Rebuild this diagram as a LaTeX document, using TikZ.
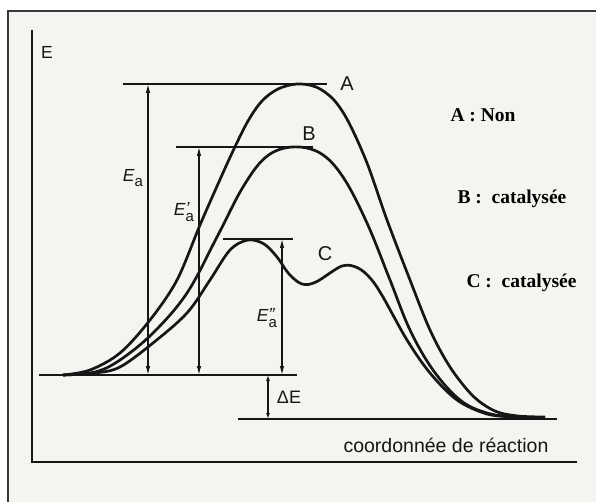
\documentclass[tikz,border=0pt]{standalone}
\usepackage{fontspec}
\setmainfont{Liberation Serif}
\setsansfont{Liberation Sans}
\usetikzlibrary{arrows.meta}
\definecolor{paper}{RGB}{246,244,240}
\definecolor{ink}{RGB}{22,22,22}
\tikzset{
  level/.style={line width=1.8pt, ink},
  pathline/.style={line width=2.7pt, ink, line join=round},
  gap/.style={line width=1.1pt, ink, {Latex[length=9pt,width=4.5pt]}-{Latex[length=9pt,width=4.5pt]}},
  smallgap/.style={line width=1.1pt, ink, {Latex[length=6pt,width=4pt]}-{Latex[length=6pt,width=4pt]}},
  curvelab/.style={font=\sffamily\fontsize{20}{20}\selectfont, ink},
  enlab/.style={font=\sffamily\fontsize{17.5}{18}\selectfont, ink, inner sep=1pt},
  legend/.style={font=\bfseries\fontsize{19.5}{21}\selectfont, anchor=west},
}
\newcommand{\Eact}[1]{{\itshape E}\rlap{\raisebox{0.05em}{\itshape #1}}\raisebox{-0.32em}{\fontsize{15}{15}\selectfont a}}

\begin{document}
\begin{tikzpicture}[x=1pt, y=-1pt]
		\useasboundingbox (0,0) rectangle (596,502);
		% page and frame
		\fill[paper] (8,11) rectangle (596,502);
		\draw[line width=1.3pt, ink!85] (8,502) -- (8,11) -- (596,11);
		% axes
		\coordinate (ytop) at (32,30);
		\coordinate (origin) at (32,462);
		\coordinate (xend) at (577,462);
		\draw[line width=2pt, ink] (ytop) -- (origin) -- (xend);
		\node[enlab] (elab) at (47,52) {E};
		\node[font=\sffamily\fontsize{19.5}{20}\selectfont, ink] (xlab) at (446,445) {coordonnée de réaction};
		% energy levels
		\coordinate (lvA1) at (123,84);  \coordinate (lvA2) at (327,84);
		\coordinate (lvB1) at (176,147); \coordinate (lvB2) at (313,147);
		\coordinate (lvC1) at (223,239); \coordinate (lvC2) at (293,239);
		\coordinate (reac1) at (39,375); \coordinate (reac2) at (297,375);
		\coordinate (prod1) at (238,419); \coordinate (prod2) at (557,419);
		\draw[level] (lvA1) -- (lvA2);
		\draw[level] (lvB1) -- (lvB2);
		\draw[level] (lvC1) -- (lvC2);
		\draw[level] (reac1) -- (reac2);
		\draw[level] (prod1) -- (prod2);
		% activation energies
		\coordinate (EaT) at (148,84);   \coordinate (EaB) at (148,375);
		\coordinate (EbT) at (199,147);  \coordinate (EbB) at (199,375);
		\coordinate (EcT) at (282,239);  \coordinate (EcB) at (282,375);
		\coordinate (dET) at (268,375);  \coordinate (dEB) at (268,419);
		\draw[gap] (EaT) -- (EaB);
		\draw[gap] (EbT) -- (EbB);
		\draw[gap] (EcT) -- (EcB);
		\draw[smallgap] (dET) -- (dEB);
		\node[enlab] (ealab) at (133,178) {\Eact{}};
		\node[enlab] (eblab) at (184,212) {\Eact{'}};
		\node[enlab] (eclab) at (267,318) {\Eact{''}};
		\node[font=\sffamily\fontsize{18}{18}\selectfont, ink] (delab) at (289,397) {ΔE};
		% reaction paths
		\draw[pathline] plot[smooth, tension=0.55] coordinates {(63,375) (90,370) (120,353) (150,320) (177,280) (200,225) (218,184) (233,151) (248,121) (262,101) (278,89) (297,84) (316,87) (333,99) (348,121) (367,163) (387,220) (410,280) (430,330) (450,367) (473,396) (495,411) (518,416) (545,417)};
		\draw[pathline] plot[smooth, tension=0.6] coordinates {(63,375) (95,372) (120,360) (153,333) (187,293) (217,237) (243,187) (266,157) (292,147) (320,153) (343,177) (367,223) (390,280) (410,330) (433,370) (460,400) (487,413) (515,417) (545,418)};
		\draw[pathline] plot[smooth, tension=0.55] coordinates {(63,375) (95,373) (120,367) (153,343) (187,313) (210,280) (230,250) (248,240) (264,244) (277,257) (289,274) (302,284) (316,282) (342,266) (358,268) (371,279) (383,297) (407,340) (430,373) (457,400) (487,414) (515,417) (545,418)};
		\node[curvelab] (labA) at (347,84) {A};
		\node[curvelab] (labB) at (309,134) {B};
		\node[curvelab] (labC) at (325,254) {C};
		% legend
		\node[legend] (legA) at (447,115) {A : Non};
		\node[legend] (legB) at (454,199) {B :\ \ catalysée};
		\node[legend] (legC) at (463,283) {C :\ \ catalysée};
	\end{tikzpicture}
\end{document}
